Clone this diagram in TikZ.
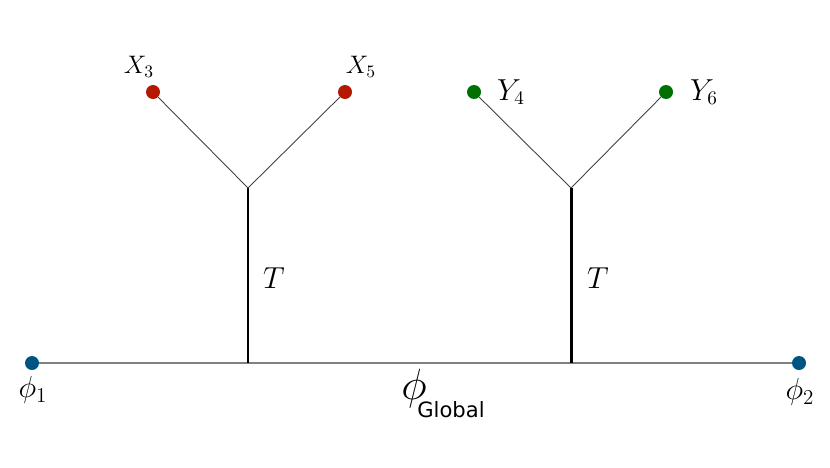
\documentclass[tikz,border=0pt]{standalone}
\usepackage{amsmath}
\usepackage{fontspec}
\usepackage{tikz}
\usetikzlibrary{positioning}
\newfontfamily\glbfont{DejaVu Sans}
\definecolor{dotred}{RGB}{180,24,0}
\definecolor{dotgreen}{RGB}{0,112,0}
\definecolor{dotblue}{RGB}{0,84,132}

\begin{document}
\begin{tikzpicture}[x=0.02cm,y=-0.02cm,
      leaf/.style={circle,inner sep=0pt,minimum size=0.28cm},
      thinedge/.style={draw=black!75,line width=0.5pt},
      trunk/.style={draw=black,line width=1.7pt},
      base/.style={draw=black!50,line width=1.1pt}]
			\useasboundingbox (0,0) rectangle (830,467);
			\coordinate (j1) at (248,188);
			\coordinate (j2) at (571,188);
			\coordinate (b1) at (248,363);
			\coordinate (b2) at (571,363);
			\path[base] (32,363) coordinate (p1) -- (799,363) coordinate (p2);
			\path[trunk] (j1) -- (b1);
			\path[trunk] (j2) -- (b2);
			\node[leaf,fill=dotred] (x3) at (153,92) {};
			\node[leaf,fill=dotred] (x5) at (345,92) {};
			\node[leaf,fill=dotgreen] (y4) at (474,92) {};
			\node[leaf,fill=dotgreen] (y6) at (666,92) {};
			\node[leaf,fill=dotblue] (f1) at (p1) {};
			\node[leaf,fill=dotblue] (f2) at (p2) {};
			\path[thinedge] (x3) -- (j1) -- (x5);
			\path[thinedge] (y4) -- (j2) -- (y6);
			\node (lx3) at (139,67) {\fontsize{14}{16}\selectfont$X_3$};
			\node (lx5) at (361,67) {\fontsize{14}{16}\selectfont$X_5$};
			\node (ly4) at (511,92) {\fontsize{16}{19}\selectfont$Y_4$};
			\node (ly6) at (704,92) {\fontsize{16}{19}\selectfont$Y_6$};
			\node (t1) at (274,278) {\fontsize{16}{19}\selectfont$T$};
			\node (t2) at (598,278) {\fontsize{16}{19}\selectfont$T$};
			\node (lf1) at (33,390) {\fontsize{17}{20}\selectfont$\phi_1$};
			\node (lf2) at (800,392) {\fontsize{17}{20}\selectfont$\phi_2$};
			\node (lg) at (414,389) {\fontsize{24}{28}\selectfont$\phi$};
			\node (lgsub) at (451,410) {\glbfont\fontsize{12}{14}\selectfont Global};
		\end{tikzpicture}
\end{document}
